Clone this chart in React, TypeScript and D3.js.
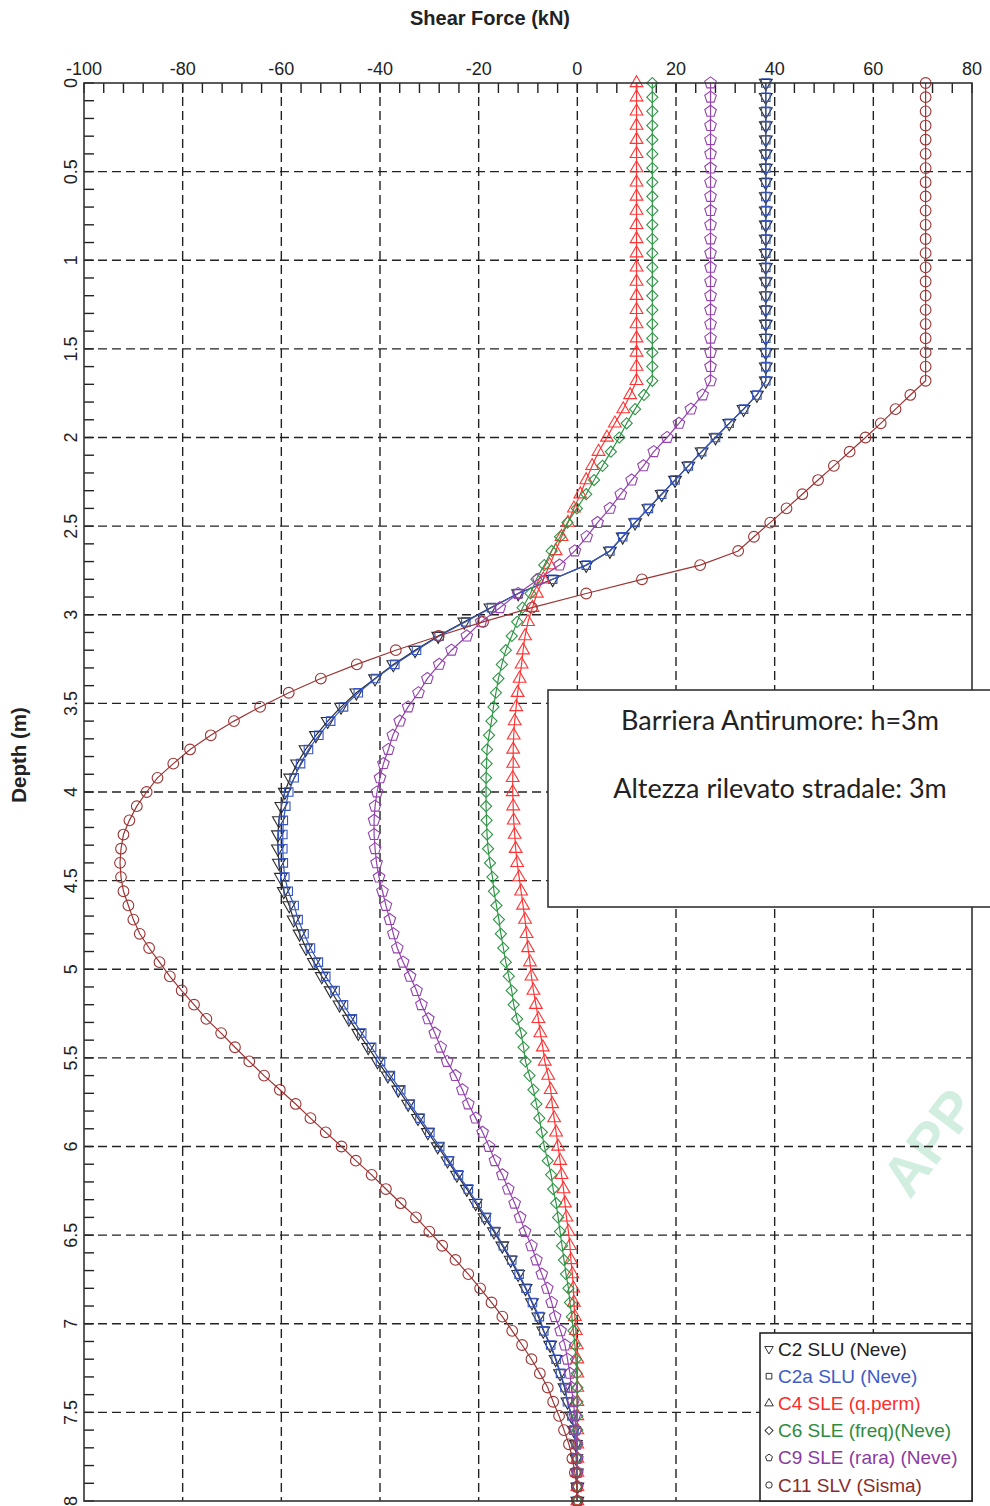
import React from 'react';
import * as d3 from 'd3';

// depth samples (m), every 0.08 m from 0 to 8
const depths = d3.range(0, 101).map(i => +(i * 0.08).toFixed(2));

// shear force (kN) per load combination
const c2 = [
  38.2, 38.2, 38.2, 38.2, 38.2, 38.2, 38.2, 38.2, 38.2, 38.2,
  38.2, 38.2, 38.2, 38.2, 38.2, 38.2, 38.2, 38.2, 38.2, 38.2,
  38.2, 38.2, 36.4, 33.7, 30.8, 28.0, 25.2, 22.5, 19.8, 17.1,
  14.4, 11.7, 9.2, 6.6, 1.8, -5.0, -12.0, -17.6, -22.9, -28.2,
  -32.9, -37.3, -41.0, -44.8, -47.9, -50.6, -53.0, -55.1, -56.8, -58.2,
  -59.3, -60.0, -60.5, -60.7, -60.7, -60.5, -60.1, -59.5, -58.4, -57.5,
  -56.3, -55.0, -53.4, -51.8, -50.0, -48.2, -46.3, -44.4, -42.4, -40.5,
  -38.4, -36.3, -34.3, -32.3, -30.3, -28.3, -26.3, -24.4, -22.4, -20.6,
  -18.8, -16.9, -15.2, -13.5, -12.0, -10.5, -9.2, -7.9, -6.9, -5.5,
  -4.4, -3.5, -2.6, -2.0, -1.2, -0.7, -0.3, -0.2, -0.1, 0,
  0,
];
const c2a = [
  38.2, 38.2, 38.2, 38.2, 38.2, 38.2, 38.2, 38.2, 38.2, 38.2,
  38.2, 38.2, 38.2, 38.2, 38.2, 38.2, 38.2, 38.2, 38.2, 38.2,
  38.2, 38.2, 36.4, 33.7, 30.8, 28.0, 25.2, 22.5, 19.8, 17.1,
  14.4, 11.7, 9.2, 6.6, 1.8, -5.0, -12.0, -17.4, -22.6, -28.0,
  -32.6, -37.0, -40.9, -44.4, -47.4, -50.0, -52.4, -54.5, -56.1, -57.4,
  -58.5, -59.1, -59.6, -59.7, -59.7, -59.6, -59.3, -58.6, -57.4, -56.6,
  -55.4, -54.1, -52.5, -51.0, -49.1, -47.4, -45.6, -43.7, -41.7, -39.9,
  -37.9, -35.8, -33.9, -31.9, -29.9, -27.9, -26.0, -24.1, -22.1, -20.3,
  -18.5, -16.7, -15.0, -13.3, -11.8, -10.4, -9.1, -7.7, -6.8, -5.4,
  -4.3, -3.4, -2.5, -2.0, -1.1, -0.7, -0.3, -0.2, -0.1, 0,
  0,
];
const c4 = [
  12.0, 12.0, 12.0, 12.0, 12.0, 12.0, 12.0, 12.0, 12.0, 12.0,
  12.0, 12.0, 12.0, 12.0, 12.0, 12.0, 12.0, 12.0, 12.0, 12.0,
  12.0, 12.0, 10.7, 9.3, 7.6, 6.0, 4.3, 3.0, 1.8, 0.6,
  -0.7, -1.9, -3.2, -4.4, -5.6, -6.9, -8.2, -9.1, -10.0, -10.6,
  -11.0, -11.3, -11.7, -12.1, -12.4, -12.7, -12.9, -13.0, -13.0, -13.1,
  -13.1, -13.0, -12.9, -12.7, -12.5, -12.2, -11.8, -11.4, -11.0, -10.6,
  -10.3, -10.0, -9.6, -9.3, -8.9, -8.4, -7.9, -7.5, -7.0, -6.6,
  -5.9, -5.4, -5.1, -4.7, -4.3, -3.9, -3.5, -3.2, -2.8, -2.5,
  -2.2, -1.8, -1.5, -1.3, -1.0, -0.8, -0.7, -0.5, -0.3, -0.1,
  0, 0, 0, 0, 0, 0, 0, 0, 0, 0,
  0,
];
const c6 = [
  15.2, 15.2, 15.2, 15.2, 15.2, 15.2, 15.2, 15.2, 15.2, 15.2,
  15.2, 15.2, 15.2, 15.2, 15.2, 15.2, 15.2, 15.2, 15.2, 15.2,
  15.2, 15.2, 13.5, 11.7, 10.0, 8.5, 6.8, 5.1, 3.4, 1.8,
  -0.1, -2.0, -3.5, -5.2, -6.7, -8.3, -9.5, -11.1, -12.2, -13.3,
  -14.5, -15.3, -16.0, -16.5, -17.0, -17.4, -17.9, -18.3, -18.4, -18.5,
  -18.5, -18.5, -18.4, -18.3, -18.1, -17.7, -17.2, -16.9, -16.4, -15.9,
  -15.5, -15.0, -14.5, -13.9, -13.3, -12.9, -12.2, -11.4, -10.9, -10.5,
  -9.7, -8.9, -8.3, -7.7, -7.2, -6.7, -6.0, -5.3, -4.9, -4.3,
  -3.9, -3.5, -3.1, -2.7, -2.3, -1.8, -1.5, -1.1, -0.8, -0.5,
  -0.3, -0.1, 0, 0, 0, 0, 0, 0, 0, 0,
  0,
];
const c9 = [
  27.0, 27.0, 27.0, 27.0, 27.0, 27.0, 27.0, 27.0, 27.0, 27.0,
  27.0, 27.0, 27.0, 27.0, 27.0, 27.0, 27.0, 27.0, 27.0, 27.0,
  27.0, 27.0, 25.4, 23.0, 20.6, 18.2, 15.5, 13.4, 11.0, 8.8,
  6.6, 4.1, 1.9, -0.5, -3.6, -7.9, -12.0, -15.7, -19.5, -22.4,
  -25.5, -28.0, -30.4, -32.2, -34.3, -36.0, -37.4, -38.3, -39.3, -40.0,
  -40.6, -41.0, -41.2, -41.2, -41.0, -40.7, -40.2, -39.5, -38.8, -38.0,
  -37.3, -36.5, -35.3, -33.9, -32.6, -31.6, -30.2, -28.9, -27.7, -26.4,
  -24.7, -23.3, -22.1, -20.6, -19.2, -17.9, -16.7, -15.2, -14.0, -12.7,
  -11.6, -10.6, -9.3, -8.3, -7.2, -6.1, -5.2, -4.5, -3.4, -2.5,
  -2.0, -1.5, -1.2, -0.8, -0.5, -0.3, -0.1, 0, 0, 0,
  0,
];
const c11 = [
  70.6, 70.6, 70.6, 70.6, 70.6, 70.6, 70.6, 70.6, 70.6, 70.6,
  70.6, 70.6, 70.6, 70.6, 70.6, 70.6, 70.6, 70.6, 70.6, 70.6,
  70.6, 70.6, 67.5, 64.5, 61.5, 58.4, 55.2, 52.0, 48.8, 45.6,
  42.4, 39.1, 35.8, 32.6, 24.9, 13.1, 1.8, -9.2, -19.1, -28.1,
  -36.8, -44.7, -52.0, -58.5, -64.3, -69.6, -74.3, -78.5, -81.9, -85.1,
  -87.3, -89.3, -90.8, -92.0, -92.5, -92.7, -92.5, -92.0, -91.0, -90.0,
  -88.7, -86.8, -84.7, -82.6, -80.2, -77.7, -75.2, -72.2, -69.4, -66.5,
  -63.5, -60.3, -57.1, -54.1, -51.0, -47.8, -44.9, -41.7, -38.8, -35.8,
  -32.7, -30.0, -27.4, -24.7, -22.1, -19.7, -17.4, -15.2, -13.2, -11.2,
  -9.3, -7.6, -6.0, -4.9, -3.7, -2.7, -1.7, -1.0, -0.5, -0.1,
  0,
];

const seriesNames = ['C2 SLU (Neve)', 'C2a SLU (Neve)', 'C4 SLE (q.perm)', 'C6 SLE (freq)(Neve)', 'C9 SLE (rara) (Neve)', 'C11 SLV (Sisma)'];
const seriesValues = [c2, c2a, c4, c6, c9, c11];
const lineColors = ['#2a2a2a', '#3556c2', '#ff3434', '#2f9646', '#9443ae', '#9e3434'];
const textColors = ['#222222', '#3d5bc8', '#ff2b2b', '#2e8b3e', '#8b3a9e', '#8b2a2a'];
const markerKinds = ['tri-down', 'square', 'tri-up', 'diamond', 'pentagon', 'circle'];

const noteLines = ['Barriera Antirumore: h=3m', 'Altezza rilevato stradale: 3m'];

// pentagon symbol for d3.symbol
const symbolPentagon = {
  draw(context: any, size: number) {
    const r = Math.sqrt(size / 2.378);
    for (let k = 0; k < 5; k++) {
      const a = -Math.PI / 2 + (k * 2 * Math.PI) / 5;
      const px = r * Math.cos(a), py = r * Math.sin(a);
      if (k === 0) context.moveTo(px, py); else context.lineTo(px, py);
    }
    context.closePath();
  },
};

function markerPath(kind: string, size: number) {
  if (kind === 'circle') return d3.symbol().type(d3.symbolCircle).size(size)();
  if (kind === 'square' || kind === 'diamond') return d3.symbol().type(d3.symbolSquare).size(size)();
  if (kind === 'pentagon') return d3.symbol().type(symbolPentagon as any).size(size)();
  return d3.symbol().type(d3.symbolTriangle).size(size)();
}
function markerRot(kind: string) {
  if (kind === 'tri-down') return 180;
  if (kind === 'diamond') return 45;
  return 0;
}
const markerSize: any = { 'tri-down': 70, 'tri-up': 70, square: 72, diamond: 62, pentagon: 88, circle: 90 };

const App = () => {
  const width = 990, height = 1506;
  const margin = { t: 83, b: 5, l: 84, r: 18 };

  const x = d3.scaleLinear().domain([-100, 80]).range([margin.l, width - margin.r]);
  const y = d3.scaleLinear().domain([0, 8]).range([margin.t, height - margin.b]);

  const font = 'Arial, "Liberation Sans", sans-serif';

  const line = d3.line<number>()
    .x(d => x(d))
    .y((d, i) => y(depths[i]));

  //x ticks and grid
  const xMajor = x.ticks(9);
  const xMinor = d3.range(-100, 80.01, 4);
  //y ticks and grid
  const yMajor = d3.range(0, 8.01, 0.5);
  const yMinor = d3.range(0, 8.01, 0.1);

  return (
    <svg width={width} height={height} style={{ position: 'absolute', left: 0, top: 0, background: '#fff' }}>
      <rect x={0} y={0} width={width} height={height} fill="#fff" />

      {/* watermark */}
      <text x={910} y={1200} transform="rotate(-53 910 1200)" fontFamily={font} fontWeight="bold" fontSize={56}
            fill="#c9ecdc" opacity={0.85}>APP</text>

      <text x={490} y={25} textAnchor="middle" fontFamily={font} fontWeight="bold" fontSize={20} fill="#222">Shear Force (kN)</text>
      <text transform={`translate(26,755) rotate(-90)`} textAnchor="middle" fontFamily={font} fontWeight="bold" fontSize={20.5} fill="#222">Depth (m)</text>

      <g className="grid" stroke="#222" strokeWidth={1.4} strokeDasharray="9,5">
        {xMajor.filter(d => d > -100 && d < 80).map(d =>
          <line key={'gx' + d} x1={x(d)} x2={x(d)} y1={y(0)} y2={y(8)} />)}
        {yMajor.filter(d => d > 0 && d < 8).map(d =>
          <line key={'gy' + d} x1={x(-100)} x2={x(80)} y1={y(d)} y2={y(d)} />)}
      </g>

      <g className="ticks" stroke="#222" strokeWidth={1.4}>
        {xMinor.map(d => <line key={'tx' + d} x1={x(d)} x2={x(d)} y1={y(0)} y2={y(0) + 10} />)}
        {yMinor.map(d => <line key={'ty' + d.toFixed(1)} x1={x(-100)} x2={x(-100) + 10} y1={y(d)} y2={y(d)} />)}
      </g>

      <g className="axis-labels" fontFamily={font} fontSize={18} fill="#222">
        {xMajor.map(d => <text key={'lx' + d} x={x(d)} y={75} textAnchor="middle">{d}</text>)}
        {yMajor.map(d => <text key={'ly' + d} transform={`translate(77,${y(d)}) rotate(-90)`} textAnchor="middle">{d3.format('~g')(d)}</text>)}
      </g>

      {seriesValues.map((vals, s) => (
        <g key={seriesNames[s]}>
          <path d={line(vals) || ''} fill="none" stroke={lineColors[s]} strokeWidth={1.2} />
          {vals.map((v, i) => (
            <path key={i} d={markerPath(markerKinds[s], markerSize[markerKinds[s]]) || ''}
                  transform={`translate(${x(v)},${y(depths[i])}) rotate(${markerRot(markerKinds[s])})`}
                  fill="none" stroke={lineColors[s]} strokeWidth={1.1} />
          ))}
        </g>
      ))}

      <rect x={x(-100)} y={y(0)} width={x(80) - x(-100)} height={y(8) - y(0)} fill="none" stroke="#333" strokeWidth={1.6} />

      {/* note box */}
      <rect x={548} y={690} width={460} height={217} fill="#fff" stroke="#333" strokeWidth={1.6} />
      {noteLines.map((t, i) => (
        <text key={t} x={780} y={730 + i * 68} textAnchor="middle" fontFamily='Lato, "Open Sans", sans-serif' fontSize={27} fill="#222">{t}</text>
      ))}

      {/* legend */}
      <rect x={760} y={1333} width={212} height={168} fill="#fff" stroke="#222" strokeWidth={1.6} />
      {seriesNames.map((n, s) => (
        <g key={'lg' + n} transform={`translate(769,${1349 + s * 27.2})`}>
          <path d={markerPath(markerKinds[s], 32) || ''} transform={`rotate(${markerRot(markerKinds[s])})`}
                fill="none" stroke="#333" strokeWidth={1} />
          <text x={9} y={6.5} fontFamily={font} fontSize={19} fill={textColors[s]}>{n}</text>
        </g>
      ))}
    </svg>
  );
};

export default App;
